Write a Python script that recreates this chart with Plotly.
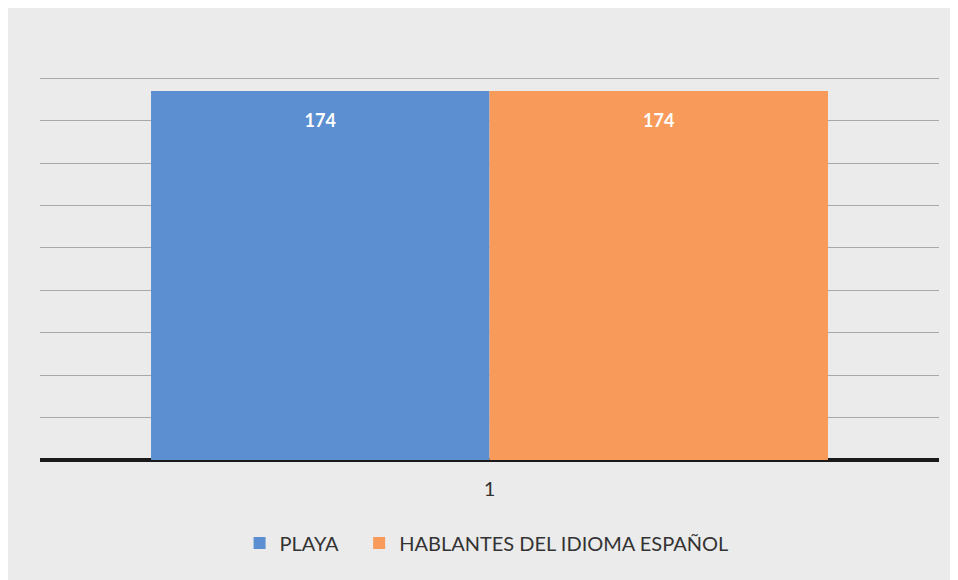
import plotly.graph_objects as go

categories = ["1"]
series_names = ["PLAYA", "HABLANTES DEL IDIOMA ESPAÑOL"]
playa_values = [174]
hablantes_values = [174]
colors = ["#5b8fd1", "#f79a5a"]
legend_ids = ["legend", "legend2"]

fig = go.Figure()
for name, vals, col, lg in zip(series_names, [playa_values, hablantes_values], colors, legend_ids):
    fig.add_trace(go.Bar(
        x=categories, y=vals, name=name, legend=lg,
        marker=dict(color=col, line=dict(width=0)),
        text=vals,
        texttemplate="<span style='font-size:10px'>\u00a0</span><br><b>%{y}</b>",
        textposition="inside", insidetextanchor="end",
        textfont=dict(color="white", size=18, family="Lato"),
    ))

legend_common = dict(orientation="h", xanchor="left", yanchor="middle",
                     font=dict(size=20, color="#333333"), bgcolor="rgba(0,0,0,0)",
                     itemwidth=30)

fig.update_layout(
    width=950, height=572,
    margin=dict(l=32, r=19, t=27, b=120),
    paper_bgcolor="#ebebeb", plot_bgcolor="#ebebeb",
    barmode="group", bargap=0.247, bargroupgap=0,
    font=dict(family="Lato", size=16, color="#333333"),
    showlegend=True,
    legend=dict(x=0.222, y=-0.195, **legend_common),
    legend2=dict(x=0.355, y=-0.195, **legend_common),
    xaxis=dict(type="category", showgrid=False, ticks="", ticklabelstandoff=15,
               tickfont=dict(size=20, color="#333333")),
    yaxis=dict(range=[0, 200.4], dtick=20, showgrid=True, gridcolor="#a8a8a8", gridwidth=1,
               showticklabels=False, zeroline=True, zerolinecolor="#1a1a1a", zerolinewidth=4),
)

fig.write_html("out.html")
